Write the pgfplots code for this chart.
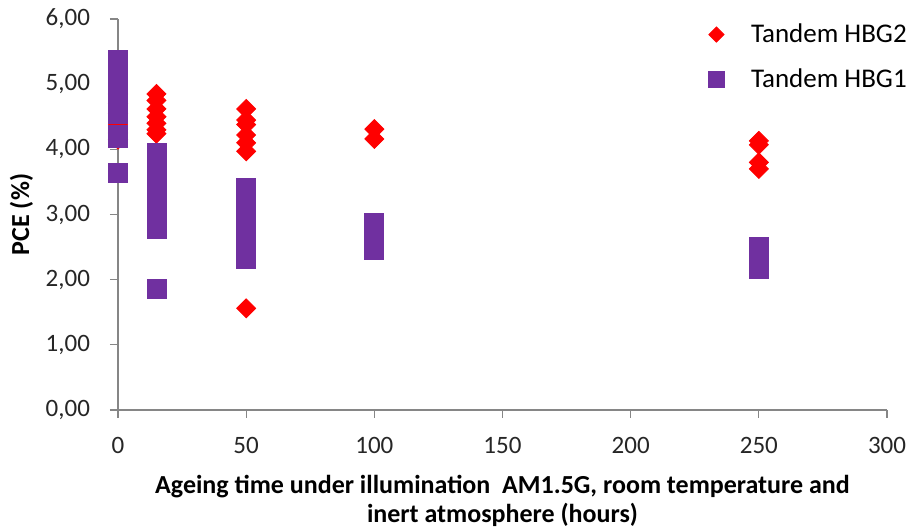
\documentclass[border=0pt]{standalone}
\usepackage{fontspec}
\setmainfont{Carlito}
\usepackage{pgfplots}
\pgfplotsset{compat=1.18}
\definecolor{hbgpurple}{RGB}{112,48,160}
\definecolor{axgray}{RGB}{134,134,134}
\begin{document}
\begin{tikzpicture}
\useasboundingbox (-59pt,-59.5pt) rectangle (395.5pt,205pt);
\begin{axis}[
  at={(0,0)}, anchor=south west,
  scale only axis, width=384.5pt, height=195.5pt,
  xmin=0, xmax=300, ymin=0, ymax=6,
  xtick={0,50,...,300}, ytick={0,1,...,6},
  axis x line*=bottom, axis y line*=left,
  axis line style={axgray, line width=0.6pt},
  tick style={axgray, line width=0.6pt},
  tick align=outside, major tick length=4pt,
  clip=false,
  /pgf/number format/assume math mode=true,
  yticklabel style={/pgf/number format/fixed, /pgf/number format/fixed zerofill, /pgf/number format/precision=2, /pgf/number format/use comma},
  ticklabel style={font=\fontsize{12.5}{15}\selectfont, text=black!85},
  xticklabel shift=6pt, yticklabel shift=6.5pt,
  xlabel={Ageing time under illumination\ \ AM1.5G, room temperature and\\inert atmosphere (hours)},
  ylabel={PCE (\%)},
  label style={font=\bfseries\fontsize{13}{14.5}\selectfont},
  xlabel style={align=center},
  xlabel shift=4pt, ylabel shift=-0.5pt,
  legend style={draw=none, fill=none, at={(0.76,1.0095)}, anchor=north west, font=\fontsize{13.5}{16}\selectfont, row sep=7.5pt},
  legend image post style={/tikz/every mark/.append style={scale=0.8}},
  legend cell align=left,
]
\addplot[only marks, mark=square*, mark size=3.36pt, mark options={rotate=45, fill=red, draw=red}, red]
coordinates {
(0,4.85) (0,4.70) (0,4.55) (0,4.38) (0,4.25) (0,4.15)
(15,4.85) (15,4.75) (15,4.62) (15,4.50) (15,4.40) (15,4.30) (15,4.24)
(50,4.62) (50,4.45) (50,4.38) (50,4.22) (50,4.10) (50,3.97) (50,1.56)
(100,4.31) (100,4.16)
(250,4.13) (250,4.07) (250,3.80) (250,3.70)
};
\addlegendentry{\hspace{11.5pt}Tandem HBG2}
\addplot[only marks, mark=square*, mark size=4.75pt, mark options={fill=hbgpurple, draw=hbgpurple}, hbgpurple]
coordinates {
(0,5.38) (0,5.25) (0,5.10) (0,4.95) (0,4.80) (0,4.67) (0,4.54) (0,4.22) (0,4.18) (0,3.64)
(15,3.94) (15,3.80) (15,3.65) (15,3.50) (15,3.35) (15,3.20) (15,3.05) (15,2.90) (15,2.78) (15,1.86)
(50,3.41) (50,3.25) (50,3.10) (50,2.95) (50,2.80) (50,2.65) (50,2.50) (50,2.32)
(100,2.87) (100,2.72) (100,2.58) (100,2.45)
(250,2.50) (250,2.35) (250,2.17)
};
\addlegendentry{\hspace{11.5pt}Tandem HBG1}
\end{axis}
\end{tikzpicture}
\end{document}
